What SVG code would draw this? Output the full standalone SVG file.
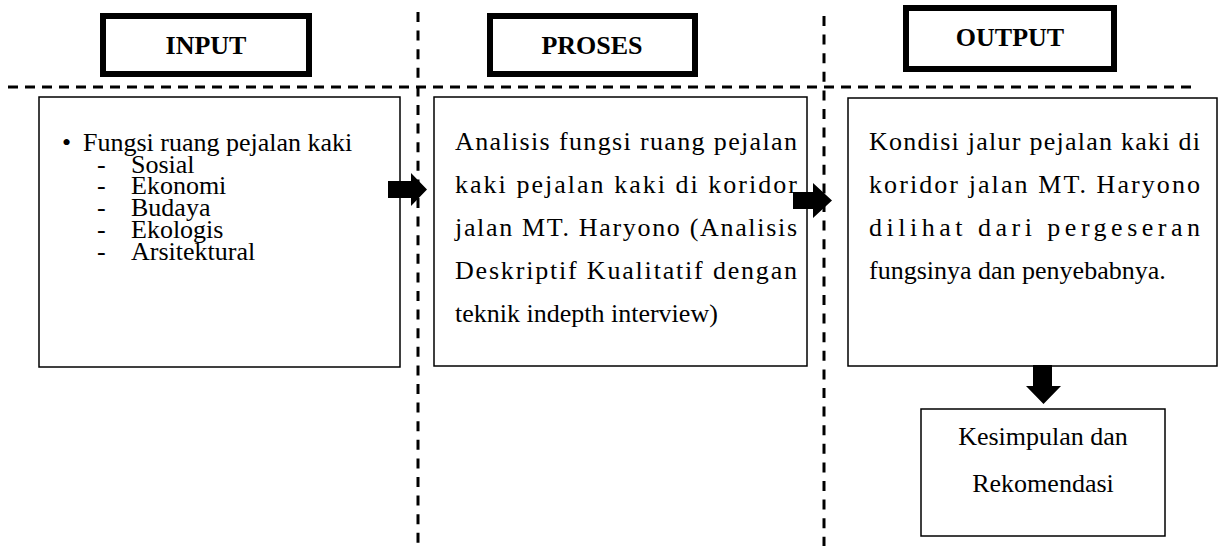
<svg xmlns="http://www.w3.org/2000/svg" width="1219" height="546" viewBox="0 0 1219 546">
  <style>
    .head { fill: #fff; stroke: #000; stroke-width: 6; }
    .box { fill: #fff; stroke: #000; stroke-width: 1.5; }
    .sep { fill: none; stroke: #000; stroke-width: 3; }
    .title { font-family: "Liberation Serif", "Times New Roman", serif; font-size: 26px; font-weight: bold; text-anchor: middle; fill: #000; }
    .txt { font-family: "Liberation Serif", "Times New Roman", serif; font-size: 26px; fill: #000; }
    .mid { text-anchor: middle; }
    .arrow { fill: #000; stroke: none; }
  </style>
  <rect width="1219" height="546" fill="#fff"/>

  <!-- column separators -->
  <g id="separators">
    <line class="sep" x1="8" y1="87" x2="1193" y2="87" stroke-dasharray="10 7"/>
    <line class="sep" x1="418" y1="12" x2="418" y2="546" stroke-dasharray="10 8.6"/>
    <line class="sep" x1="824" y1="16" x2="824" y2="546" stroke-dasharray="10 8.6"/>
  </g>

  <!-- column headings -->
  <g id="head-input">
    <rect class="head" x="103" y="16" width="206" height="58"/>
    <text class="title" x="206" y="54">INPUT</text>
  </g>
  <g id="head-proses">
    <rect class="head" x="490" y="16" width="205" height="58"/>
    <text class="title" x="592" y="54">PROSES</text>
  </g>
  <g id="head-output">
    <rect class="head" x="906" y="8" width="208" height="61"/>
    <text class="title" x="1010" y="46">OUTPUT</text>
  </g>

  <!-- input -->
  <g id="input">
    <rect class="box" x="39" y="97" width="361" height="270"/>
    <text class="txt" x="62" y="151">•</text>
    <text class="txt" x="83" y="151">Fungsi ruang pejalan kaki</text>
    <g class="txt">
      <text x="97" y="172.7">-</text><text x="131" y="172.7">Sosial</text>
      <text x="97" y="194.4">-</text><text x="131" y="194.4">Ekonomi</text>
      <text x="97" y="216.1">-</text><text x="131" y="216.1">Budaya</text>
      <text x="97" y="237.8">-</text><text x="131" y="237.8">Ekologis</text>
      <text x="97" y="259.5">-</text><text x="131" y="259.5">Arsitektural</text>
    </g>
  </g>

  <!-- proses -->
  <g id="proses">
    <rect class="box" x="434" y="97" width="373" height="269"/>
    <g class="txt">
      <text x="455" y="150" textLength="342" lengthAdjust="spacing">Analisis fungsi ruang pejalan</text>
      <text x="455" y="193" textLength="342" lengthAdjust="spacing">kaki pejalan kaki di koridor</text>
      <text x="455" y="236" textLength="342" lengthAdjust="spacing">jalan MT. Haryono (Analisis</text>
      <text x="455" y="279" textLength="342" lengthAdjust="spacing">Deskriptif Kualitatif dengan</text>
      <text x="455" y="322">teknik indepth interview)</text>
    </g>
  </g>

  <!-- output -->
  <g id="output">
    <rect class="box" x="848" y="98" width="369" height="268"/>
    <g class="txt">
      <text x="869" y="150" textLength="331" lengthAdjust="spacing">Kondisi jalur pejalan kaki di</text>
      <text x="869" y="193" textLength="331" lengthAdjust="spacing">koridor jalan MT. Haryono</text>
      <text x="869" y="236" textLength="331" lengthAdjust="spacing">dilihat dari pergeseran</text>
      <text x="869" y="279">fungsinya dan penyebabnya.</text>
    </g>
  </g>

  <!-- conclusion -->
  <g id="kesimpulan">
    <rect class="box" x="921" y="409" width="244" height="127"/>
    <text class="txt mid" x="1043" y="445">Kesimpulan dan</text>
    <text class="txt mid" x="1043" y="492">Rekomendasi</text>
  </g>

  <!-- block arrows -->
  <g id="connectors">
    <path class="arrow" d="M388,181 H411 V173 L427,189.5 L411,206 V198 H388 Z"/>
    <path class="arrow" d="M793,192 H813 V183 L832,200.5 L813,218 V209 H793 Z"/>
    <path class="arrow" d="M1033,365 H1052 V386 H1061 L1043.5,404 L1026,386 H1033 Z"/>
  </g>
</svg>
